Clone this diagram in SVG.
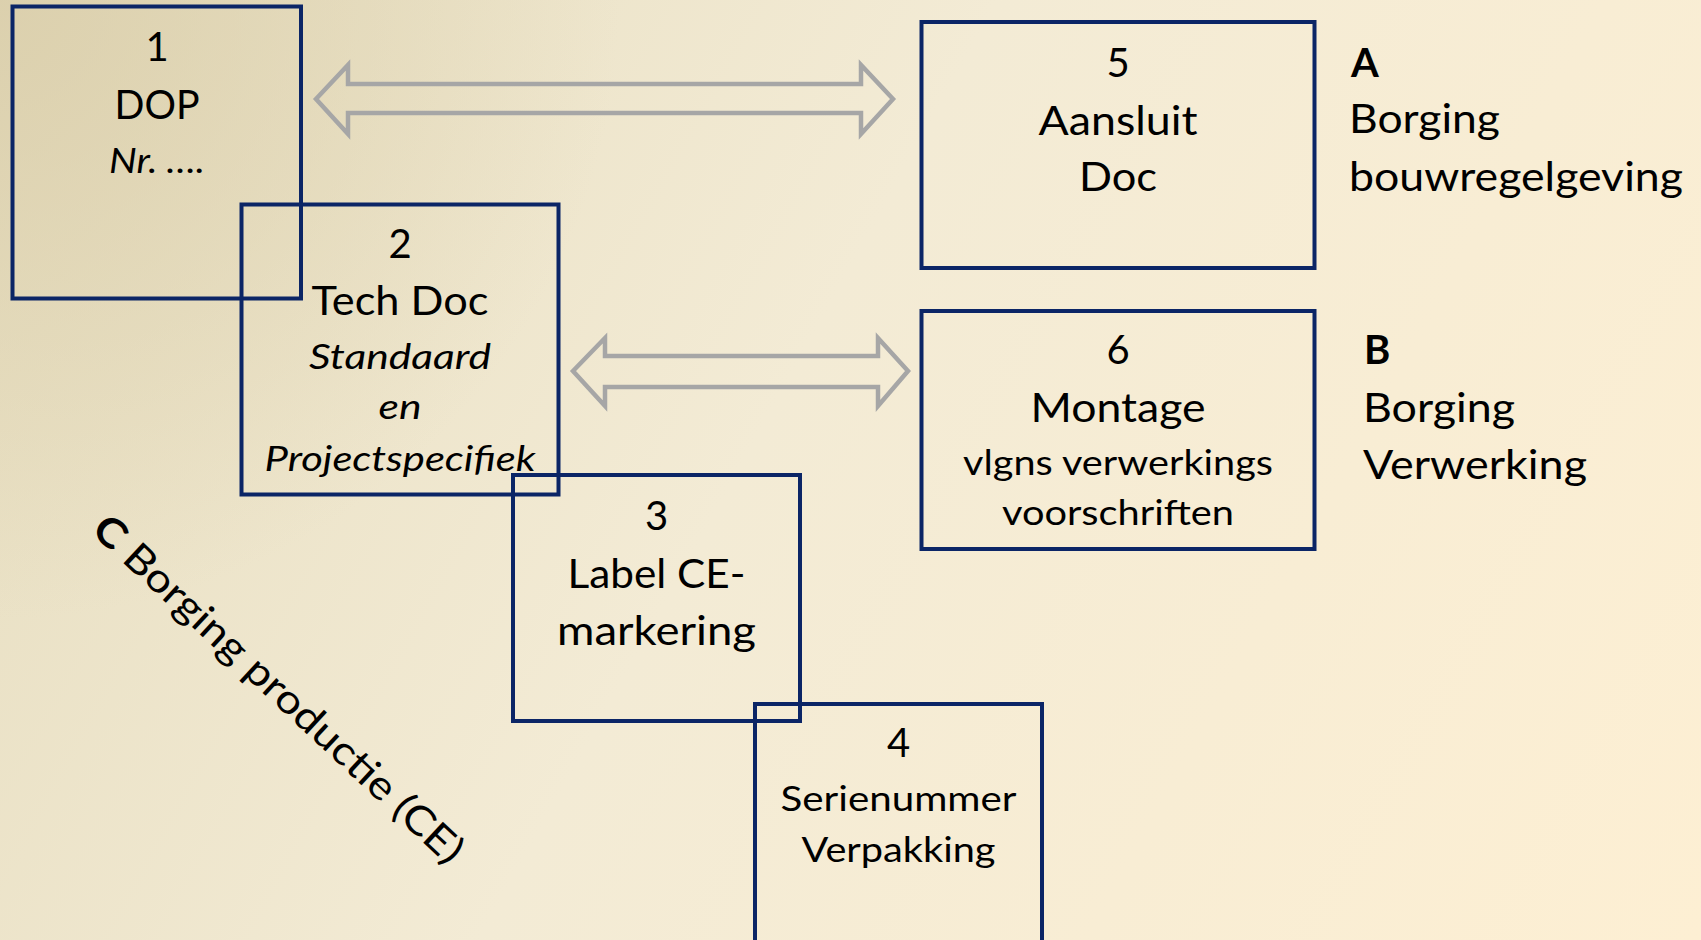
<svg xmlns="http://www.w3.org/2000/svg" width="1701" height="940" viewBox="0 0 1701 940">
<defs>
<linearGradient id="bg" x1="0" y1="0" x2="1701" y2="940" gradientUnits="userSpaceOnUse">
<stop offset="0" stop-color="#e6ddbf"/>
<stop offset="0.45" stop-color="#f3ebd5"/>
<stop offset="1" stop-color="#fdefd3"/>
</linearGradient>
<radialGradient id="tl" cx="0" cy="0" r="620" gradientUnits="userSpaceOnUse">
<stop offset="0" stop-color="#d9cda9" stop-opacity="0.8"/>
<stop offset="1" stop-color="#d9cda9" stop-opacity="0"/>
</radialGradient>
<style>
.box{fill:none;stroke:#0b2566;stroke-width:4}
.arr{fill:none;stroke:#a6a6a6;stroke-width:4.5;stroke-linejoin:miter}
text{font-family:Lato,"Open Sans","Liberation Sans",sans-serif;fill:#000}
.c{text-anchor:middle}
.m{font-size:40px}
.s{font-size:35px}
.i{font-style:italic}
.b{font-weight:bold}
</style>
</defs>
<rect width="1701" height="940" fill="url(#bg)"/>
<rect width="1701" height="940" fill="url(#tl)"/>
<g id="connectors">
<polygon class="arr" points="316,99 348,65 348,84 861,84 861,65 893,99 861,134 861,113 348,113 348,134"/>
<polygon class="arr" points="573,371 605,338 605,356 878,356 878,338 908,371 878,406 878,387 605,387 605,406"/>
</g>
<g id="node1">
<rect class="box" x="12.5" y="6.5" width="288.5" height="292"/>
<text class="c m" x="157" y="61">1</text>
<text class="c m" x="157" y="119" textLength="85" lengthAdjust="spacingAndGlyphs">DOP</text>
<text class="c s i" x="157" y="173" textLength="96" lengthAdjust="spacingAndGlyphs">Nr. ….</text>
</g>
<g id="node2">
<rect class="box" x="241.5" y="204.5" width="317" height="290"/>
<text class="c m" x="400" y="258">2</text>
<text class="c m" x="400" y="315" textLength="177" lengthAdjust="spacingAndGlyphs">Tech Doc</text>
<text class="c s i" x="400" y="369" textLength="182" lengthAdjust="spacingAndGlyphs">Standaard</text>
<text class="c s i" x="400" y="419" textLength="43" lengthAdjust="spacingAndGlyphs">en</text>
<text class="c s i" x="400" y="471" textLength="271" lengthAdjust="spacingAndGlyphs">Projectspecifiek</text>
</g>
<g id="node3">
<rect class="box" x="513" y="475" width="287" height="246"/>
<text class="c m" x="656.5" y="530">3</text>
<text class="c m" x="656.5" y="588" textLength="178" lengthAdjust="spacingAndGlyphs">Label CE-</text>
<text class="c m" x="656.5" y="645" textLength="199" lengthAdjust="spacingAndGlyphs">markering</text>
</g>
<g id="node4">
<rect class="box" x="755" y="704" width="287" height="250"/>
<text class="c m" x="898.5" y="757">4</text>
<text class="c s" x="898.5" y="811" textLength="236" lengthAdjust="spacingAndGlyphs">Serienummer</text>
<text class="c s" x="898.5" y="862" textLength="194" lengthAdjust="spacingAndGlyphs">Verpakking</text>
</g>
<g id="node5">
<rect class="box" x="921.5" y="22" width="393" height="246"/>
<text class="c m" x="1118" y="77">5</text>
<text class="c m" x="1118" y="135" textLength="159" lengthAdjust="spacingAndGlyphs">Aansluit</text>
<text class="c m" x="1118" y="191" textLength="78" lengthAdjust="spacingAndGlyphs">Doc</text>
</g>
<g id="node6">
<rect class="box" x="921.5" y="311" width="393" height="238"/>
<text class="c m" x="1118" y="364">6</text>
<text class="c m" x="1118" y="422" textLength="175" lengthAdjust="spacingAndGlyphs">Montage</text>
<text class="c s" x="1118" y="475" textLength="310" lengthAdjust="spacingAndGlyphs">vlgns verwerkings</text>
<text class="c s" x="1118" y="525" textLength="232" lengthAdjust="spacingAndGlyphs">voorschriften</text>
</g>
<g id="labelA">
<text class="m b" x="1351" y="77">A</text>
<text class="m" x="1349" y="133" textLength="151" lengthAdjust="spacingAndGlyphs">Borging</text>
<text class="m" x="1349" y="191" textLength="334" lengthAdjust="spacingAndGlyphs">bouwregelgeving</text>
</g>
<g id="labelB">
<text class="m b" x="1364" y="364">B</text>
<text class="m" x="1363" y="422" textLength="152" lengthAdjust="spacingAndGlyphs">Borging</text>
<text class="m" x="1363" y="479" textLength="224" lengthAdjust="spacingAndGlyphs">Verwerking</text>
</g>
<g id="labelC">
<text class="m" transform="translate(90,532) rotate(43)" textLength="490" lengthAdjust="spacingAndGlyphs"><tspan class="b">C</tspan> Borging productie (CE)</text>
</g>
</svg>
